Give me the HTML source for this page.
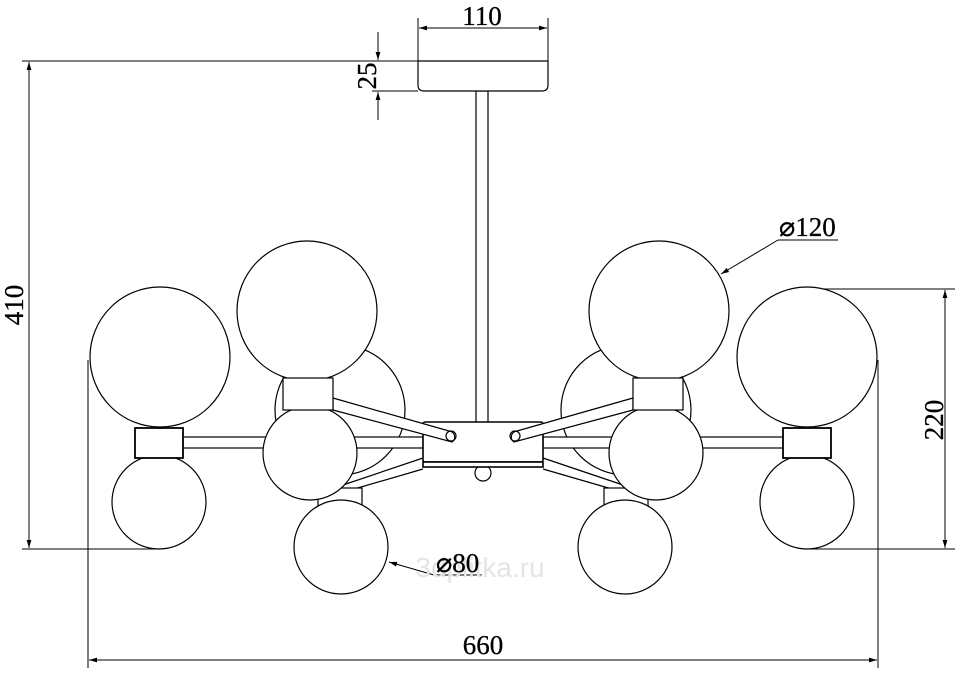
<!DOCTYPE html>
<html><head><style>body{margin:0;background:#fff}svg{display:block}.t{font-family:"Liberation Serif",serif;font-size:27px;fill:#000;stroke:#000;stroke-width:0.3}</style></head><body>
<svg width="960" height="675" viewBox="0 0 960 675" xmlns="http://www.w3.org/2000/svg">
<defs><marker id="a" viewBox="0 0 10 10" refX="10" refY="5" markerWidth="12" markerHeight="8" orient="auto-start-reverse" markerUnits="userSpaceOnUse"><path d="M0,2 L10,5 L0,8 Z" fill="#000"/></marker></defs>
<g stroke="#000" stroke-width="1" fill="none">
<line x1="418" y1="18" x2="418" y2="61"/><line x1="548" y1="18" x2="548" y2="61"/>
<line x1="419" y1="28" x2="547" y2="28" marker-start="url(#a)" marker-end="url(#a)"/>
<line x1="22" y1="61" x2="418" y2="61"/><line x1="372" y1="91" x2="418" y2="91"/>
<line x1="378" y1="32" x2="378" y2="60" marker-end="url(#a)"/><line x1="378" y1="120" x2="378" y2="92" marker-end="url(#a)"/>
<line x1="29" y1="62" x2="29" y2="548" marker-start="url(#a)" marker-end="url(#a)"/>
<line x1="22" y1="549" x2="160" y2="549"/>
<line x1="808" y1="289" x2="955" y2="289"/><line x1="808" y1="549" x2="955" y2="549"/>
<line x1="945" y1="290" x2="945" y2="548" marker-start="url(#a)" marker-end="url(#a)"/>
<line x1="88" y1="360" x2="88" y2="668"/><line x1="878" y1="360" x2="878" y2="668"/>
<line x1="89" y1="660" x2="877" y2="660" marker-start="url(#a)" marker-end="url(#a)"/>
<line x1="838" y1="240" x2="778" y2="240"/><line x1="778" y1="240" x2="721" y2="274" marker-end="url(#a)"/>
<line x1="482" y1="575" x2="434" y2="575"/><line x1="434" y1="575" x2="389" y2="562" marker-end="url(#a)"/>
</g>
<text x="480" y="577" font-family="Liberation Sans, sans-serif" font-size="28" fill="#e4e4e4" text-anchor="middle">3dplitka.ru</text>
<g stroke="#000" stroke-width="1.2" fill="#fff">
<circle cx="340" cy="410" r="65"/><circle cx="626" cy="410" r="65"/>
<path d="M423,458 L340,486 M423,469 L330,496" fill="none"/>
<path d="M543,458 L626,486 M543,469 L636,496" fill="none"/>
<rect x="318" y="488" width="44" height="20" stroke="#000" fill="#fff"/>
<rect x="604" y="488" width="44" height="20" stroke="#000" fill="#fff"/>
<circle cx="341" cy="547" r="47"/><circle cx="625" cy="547" r="47"/>
<rect x="476" y="91" width="12" height="332"/>
<path d="M418,61 H548 V85 Q548,91 542,91 H424 Q418,91 418,85 Z"/>
<rect x="183" y="437" width="240" height="11"/><rect x="543" y="437" width="240" height="11"/>
<circle cx="160" cy="357" r="70"/><circle cx="159" cy="502" r="47"/>
<circle cx="807" cy="357" r="70"/><circle cx="807" cy="502" r="47"/>
<rect x="135" y="428" width="48" height="30" stroke-width="1.8"/>
<rect x="783" y="428" width="48" height="30" stroke-width="1.8"/>
<circle cx="307" cy="311" r="70"/><circle cx="659" cy="311" r="70"/>
<circle cx="310" cy="453" r="47"/><circle cx="656" cy="453" r="47"/>
<circle cx="483" cy="473" r="8"/>
<rect x="423" y="422" width="120" height="40" rx="2" stroke-width="1.6"/>
<rect x="423" y="462" width="120" height="5" stroke-width="1.6"/>
<path d="M333,398 L449,431 A6,6 0 0 1 452,442 L333,410 Z"/>
<path d="M633,398 L517,431 A6,6 0 0 0 514,442 L633,410 Z"/>
<rect x="283" y="378" width="50" height="32"/><rect x="633" y="378" width="50" height="32"/>
<circle cx="451" cy="436" r="5" fill="none"/><circle cx="515" cy="436" r="5" fill="none"/>
</g>
<text class="t" x="482" y="25" text-anchor="middle">110</text>
<text class="t" x="483" y="654" text-anchor="middle">660</text>
<text class="t" x="779" y="236">⌀120</text>
<text class="t" x="436" y="572">⌀80</text>
<text class="t" transform="translate(23,305) rotate(-90)" text-anchor="middle">410</text>
<text class="t" transform="translate(376,76) rotate(-90)" text-anchor="middle">25</text>
<text class="t" transform="translate(943,420) rotate(-90)" text-anchor="middle">220</text>
</svg>
</body></html>
